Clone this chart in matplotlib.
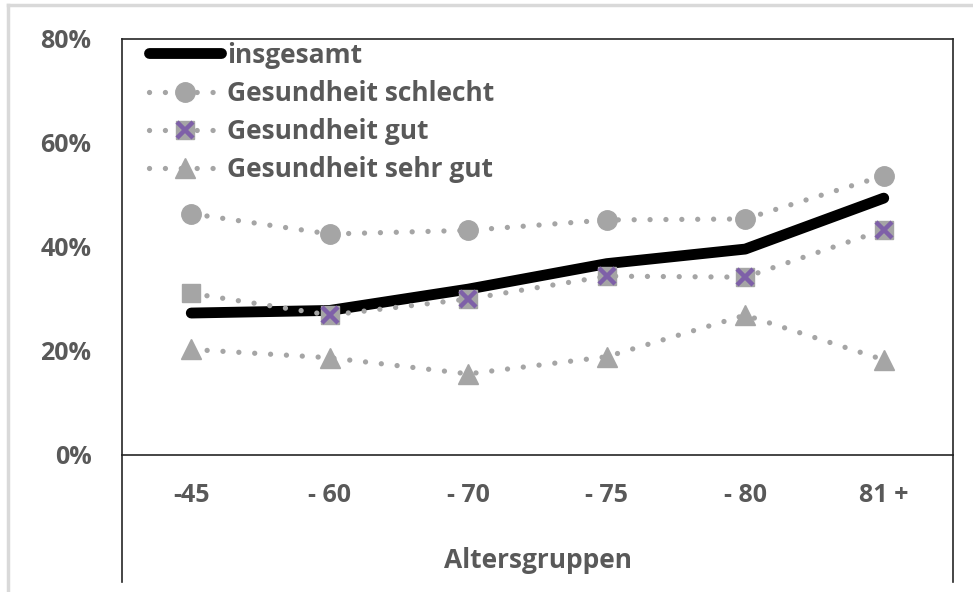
import matplotlib.pyplot as plt
from matplotlib.lines import Line2D
from matplotlib.legend_handler import HandlerTuple

# data (percent)
age_groups = ["-45", "- 60", "- 70", "- 75", "- 80", "81 +"]
insgesamt = [27.3, 27.8, 31.9, 36.8, 39.6, 49.4]
schlecht = [46.4, 42.5, 43.2, 45.2, 45.4, 53.7]
gut = [31.1, 26.9, 30.0, 34.4, 34.2, 43.3]
sehr_gut = [20.3, 18.7, 15.6, 18.9, 26.9, 18.3]

GRAY = '#A5A5A5'
PURPLE = '#7E60A8'
TXT = '#595959'
FONT = 'Open Sans'

plt.rcParams['font.family'] = [FONT, 'DejaVu Sans']

W, H = 973, 592
fig = plt.figure(figsize=(W / 100, H / 100), dpi=100)
ax = fig.add_axes([122 / W, (H - 455) / H, (953 - 122) / W, (455 - 39) / H])

x = list(range(len(age_groups)))
dots = (0, (0.01, 3.0))
DLW = 3.8

l_all, = ax.plot(x, insgesamt, color='black', lw=7.8, solid_capstyle='round',
                 solid_joinstyle='round', zorder=3)
l_schl, = ax.plot(x, schlecht, color=GRAY, lw=DLW, linestyle=dots, dash_capstyle='round',
                  marker='o', ms=14, mec=GRAY, mfc=GRAY, zorder=4)
l_gut, = ax.plot(x, gut, color=GRAY, lw=DLW, linestyle=dots, dash_capstyle='round',
                 marker='s', ms=13, mec=GRAY, mfc=GRAY, zorder=4)
l_gutx, = ax.plot(x, gut, linestyle='none', marker='x', ms=11, mew=3.2, mec=PURPLE,
                  markevery=list(range(1, len(x))), zorder=5)
l_sg, = ax.plot(x, sehr_gut, color=GRAY, lw=DLW, linestyle=dots, dash_capstyle='round',
                marker='^', ms=14, mec=GRAY, mfc=GRAY, zorder=4)

ax.set_xlim(-0.5, len(x) - 0.5)
ax.set_ylim(0, 80)
ax.set_yticks([0, 20, 40, 60, 80])
ax.set_yticklabels([f"{v}%" for v in [0, 20, 40, 60, 80]])
ax.set_xticks(x)
ax.set_xticklabels(age_groups)
ax.tick_params(length=0, labelsize=18, labelcolor=TXT)
ax.tick_params(axis='x', pad=20)
ax.tick_params(axis='y', pad=22)
for lab in ax.get_xticklabels() + ax.get_yticklabels():
    lab.set_fontweight('bold')

for s in ax.spines.values():
    s.set_color('#262626')
    s.set_linewidth(1.2)

# frame continues below the zero line
ext = (582 - 455) / (455 - 39)
for xx in (0, 1):
    ax.plot([xx, xx], [0, -ext], transform=ax.transAxes, color='#262626', lw=1.2, clip_on=False)

fig.text(537.5 / W, (H - 560) / H, "Altersgruppen", ha='center', va='center',
         fontsize=19, fontweight='bold', color=TXT)

# light outer border
fig.add_artist(Line2D([8 / W, 8 / W], [0, (H - 5) / H], color='#D9D9D9', lw=2.5))
fig.add_artist(Line2D([8 / W, 1], [(H - 5) / H, (H - 5) / H], color='#D9D9D9', lw=2.5))

leg_all = Line2D([], [], color='black', lw=7.8, solid_capstyle='round')
leg_gutx = Line2D([], [], linestyle='none', marker='x', ms=11, mew=3.2, mec=PURPLE)
leg = ax.legend([leg_all, l_schl, (l_gut, leg_gutx), l_sg],
                ["insgesamt", "Gesundheit schlecht", "Gesundheit gut", "Gesundheit sehr gut"],
                handler_map={tuple: HandlerTuple(ndivide=1, pad=0)},
                loc='upper left', bbox_to_anchor=(0.01, 1.038), frameon=False, numpoints=1,
                handlelength=2.75, handletextpad=0.2, labelspacing=0.42, borderaxespad=0.3,
                prop={'family': FONT, 'weight': 'bold', 'size': 19})
for t in leg.get_texts():
    t.set_color(TXT)

fig.savefig('out.png', dpi=100)
